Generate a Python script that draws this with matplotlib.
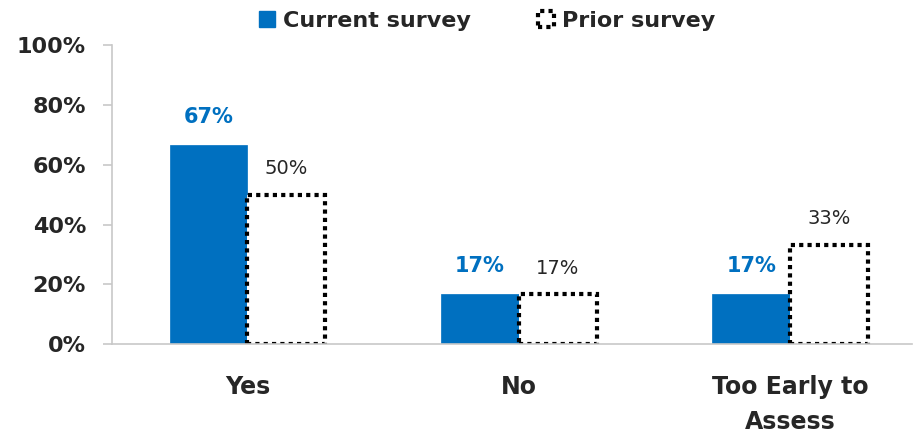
import matplotlib
matplotlib.use("Agg")
import matplotlib.pyplot as plt
import numpy as np
from matplotlib.patches import Patch

categories = ["Yes", "No", "Too Early to\nAssess"]
current = [0.667, 0.167, 0.167]
prior = [0.50, 0.167, 0.333]
current_labels = ["67%", "17%", "17%"]
prior_labels = ["50%", "17%", "33%"]
yticks = [0, 0.2, 0.4, 0.6, 0.8, 1.0]
ytick_labels = ["0%", "20%", "40%", "60%", "80%", "100%"]

plt.rcParams['font.family'] = ['DejaVu Sans']
blue = "#0070C0"
dark = "#262626"

fig = plt.figure(figsize=(9.16, 4.34), dpi=100)
ax = fig.add_axes([0.122, 0.207, 0.874, 0.689])

x = np.arange(len(categories))
w = 0.287
ax.bar(x - w/2, current, w, color=blue, edgecolor=blue, linewidth=0.5)
ax.bar(x + w/2, prior, w, facecolor="white", edgecolor="black",
       linewidth=3, linestyle=(0, (1, 1)))

for xi, v, lab in zip(x, current, current_labels):
    ax.text(xi - w/2, v + 0.06, lab, ha="center", va="bottom", color=blue,
            fontsize=15, fontweight="bold")
for xi, v, lab in zip(x, prior, prior_labels):
    ax.text(xi + w/2, v + 0.055, lab, ha="center", va="bottom", color=dark,
            fontsize=14)

ax.set_ylim(0, 1)
ax.set_xlim(-0.5, 2.45)
ax.set_yticks(yticks)
ax.set_yticklabels(ytick_labels, fontsize=16, fontweight="bold", color=dark)
ax.set_xticks(x)
ax.set_xticklabels(categories, fontsize=17, fontweight="bold", color=dark,
                   linespacing=1.6)
ax.tick_params(axis="x", length=0, pad=22)
ax.tick_params(axis="y", length=6.5, color="#c8c8c8", width=1.2, pad=12)
for s in ["top", "right"]:
    ax.spines[s].set_visible(False)
ax.spines["left"].set_color("#c8c8c8")
ax.spines["bottom"].set_color("#c8c8c8")
ax.spines["left"].set_linewidth(1.2)
ax.spines["bottom"].set_linewidth(1.2)

handles = [Patch(facecolor=blue, edgecolor=blue),
           Patch(facecolor="white", edgecolor="black", linewidth=3, linestyle=(0, (1, 1)))]
fig.legend(handles, ["Current survey", "Prior survey"], loc="center",
           bbox_to_anchor=(0.532, 0.952), ncol=2, frameon=False,
           prop={"weight": "bold", "size": 16}, handlelength=0.7, handleheight=0.7,
           handletextpad=0.4, columnspacing=3.0, labelcolor=dark)

fig.savefig("out.png", dpi=100)
